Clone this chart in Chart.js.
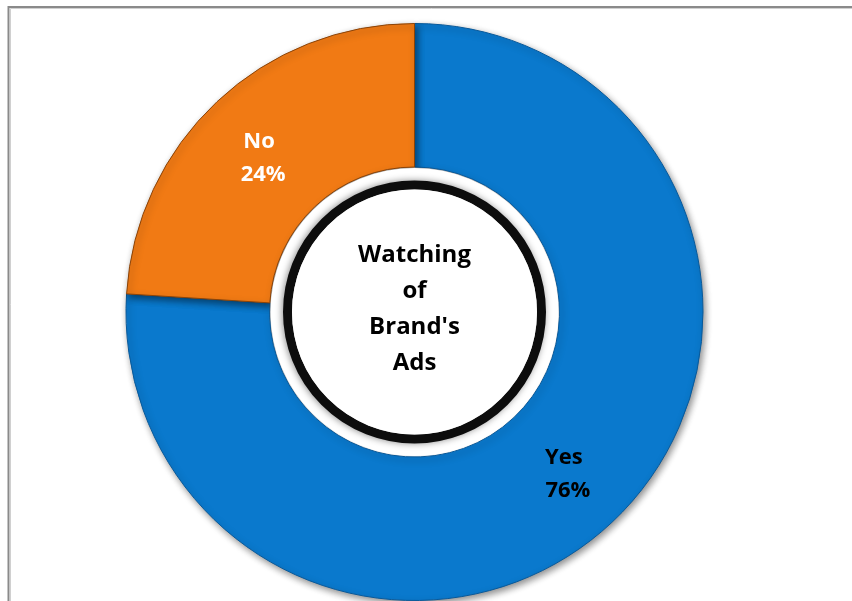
<!DOCTYPE html>
<html>
<head>
<meta charset="utf-8">
<script src="https://cdn.jsdelivr.net/npm/chart.js@4/dist/chart.umd.min.js"></script>
<style>
  html, body { margin: 0; padding: 0; background: #ffffff; }
  #wrap { width: 852px; height: 601px; position: relative; }
</style>
</head>
<body>
<div id="wrap"><canvas id="chart" width="852" height="601"></canvas></div>
<script>
// Survey answers: did respondents watch the brand's ads?
const categories = ["Yes", "No"];
const shares = [76, 24];
const sliceColors = ["#0a79cd", "#f17a14"];
const sliceEdges = ["#08599a", "#8a4308"];
const labelColors = ["#000000", "#ffffff"];
const centerTitle = ["Watching", "of", "Brand's", "Ads"];

const FONT = "'Open Sans', 'Liberation Sans', sans-serif";

// thin grey frame along the top and left edges
const framePlugin = {
  id: "frame",
  beforeDraw(chart) {
    const ctx = chart.ctx;
    ctx.save();
    ctx.strokeStyle = "#8a8a8a";
    ctx.lineWidth = 2;
    ctx.beginPath();
    ctx.moveTo(8.5, 601);
    ctx.lineTo(8.5, 7);
    ctx.lineTo(852, 7);
    ctx.stroke();
    ctx.strokeStyle = "#d0d0d0";
    ctx.lineWidth = 1;
    ctx.beginPath();
    ctx.moveTo(10.5, 601);
    ctx.lineTo(10.5, 8.5);
    ctx.lineTo(852, 8.5);
    ctx.stroke();
    ctx.restore();
  }
};

// soft drop shadow under the ring
const shadowPlugin = {
  id: "ringShadow",
  beforeDatasetDraw(chart) {
    const ctx = chart.ctx;
    ctx.save();
    ctx.shadowColor = "rgba(0,0,0,0.45)";
    ctx.shadowBlur = 7;
    ctx.shadowOffsetX = 2;
    ctx.shadowOffsetY = 3;
  },
  afterDatasetDraw(chart) {
    chart.ctx.restore();
  }
};

// black ring with the title inside the hole, plus slice labels
const centerPlugin = {
  id: "centerTitle",
  afterDatasetsDraw(chart) {
    const ctx = chart.ctx;
    const arc0 = chart.getDatasetMeta(0).data[0];
    const cx = arc0.x, cy = arc0.y;
    const inner = arc0.innerRadius;

    ctx.save();
    ctx.fillStyle = "#ffffff";
    ctx.beginPath();
    ctx.arc(cx, cy, inner - 1, 0, Math.PI * 2);
    ctx.fill();

    ctx.shadowColor = "rgba(0,0,0,0.45)";
    ctx.shadowBlur = 7;
    ctx.shadowOffsetX = -1;
    ctx.shadowOffsetY = 0;
    ctx.strokeStyle = "#0d0d0d";
    ctx.lineWidth = 9;
    ctx.beginPath();
    ctx.arc(cx, cy, inner - 18, 0, Math.PI * 2);
    ctx.stroke();
    ctx.shadowColor = "transparent";
    ctx.fillStyle = "#ffffff";
    ctx.beginPath();
    ctx.arc(cx, cy, inner - 22.5, 0, Math.PI * 2);
    ctx.fill();

    ctx.fillStyle = "#000000";
    ctx.font = "bold 24px " + FONT;
    ctx.textAlign = "center";
    ctx.textBaseline = "middle";
    const lh = 36;
    const top = cy - 3 - lh * (centerTitle.length - 1) / 2;
    centerTitle.forEach((line, i) => ctx.fillText(line, cx, top + i * lh));

    // slice labels: category and share, nudged a little away from the centre
    const meta = chart.getDatasetMeta(0);
    ctx.font = "bold 22px " + FONT;
    meta.data.forEach((arc, i) => {
      const p = arc.tooltipPosition();
      const nx = p.x + Math.sign(p.x - cx) * 4;
      ctx.fillStyle = labelColors[i];
      ctx.fillText(categories[i], nx - 3, p.y - 12);
      ctx.fillText(shares[i] + "%", nx + 1, p.y + 21);
    });
    ctx.restore();
  }
};

new Chart(document.getElementById("chart"), {
  type: "doughnut",
  data: {
    labels: categories,
    datasets: [{
      data: shares,
      backgroundColor: sliceColors,
      borderColor: sliceEdges,
      borderWidth: 1
    }]
  },
  options: {
    responsive: false,
    animation: false,
    cutout: 145,
    layout: { padding: { left: 124, right: 147, top: 23, bottom: 0 } },
    plugins: {
      legend: { display: false },
      tooltip: { enabled: false }
    }
  },
  plugins: [framePlugin, shadowPlugin, centerPlugin]
});
</script>
</body>
</html>
